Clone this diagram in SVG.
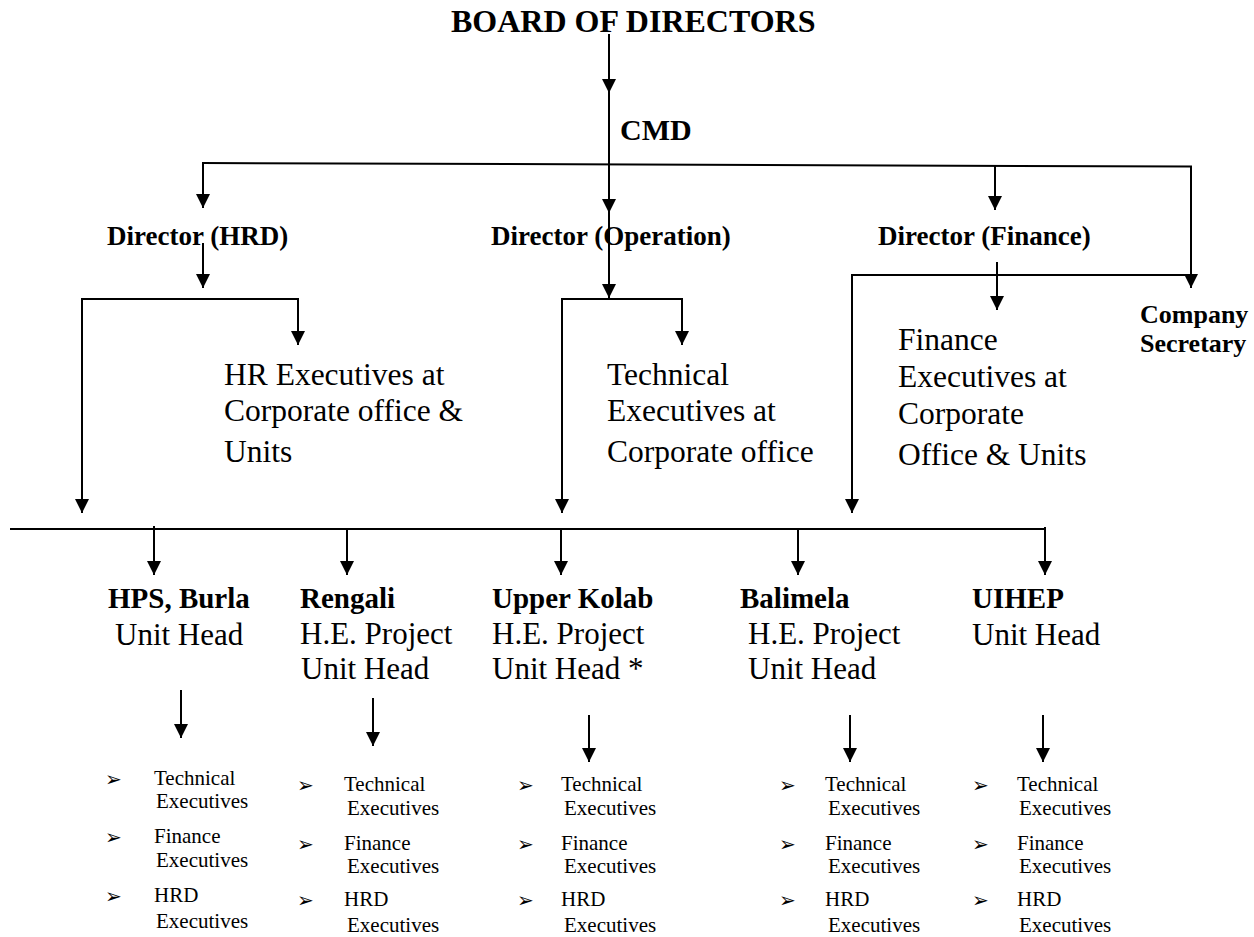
<svg xmlns="http://www.w3.org/2000/svg" width="1254" height="937" viewBox="0 0 1254 937">
<style>
text{font-family:"Liberation Serif","Times New Roman",serif;fill:#000}
.b{font-weight:bold}
.t32{font-size:32px}
.t30{font-size:30px}
.t27{font-size:27px}
.t26{font-size:26px}
.t29{font-size:29px}
.r31{font-size:31px}
.r315{font-size:31.5px}
.s21{font-size:21px}
.bul{font-family:"DejaVu Sans",sans-serif;font-size:20px}
.c line{stroke:#000;stroke-width:2;fill:none}
.c line.a{marker-end:url(#ah)}
</style>
<defs>
<marker id="ah" markerUnits="userSpaceOnUse" markerWidth="15" markerHeight="15" refX="14" refY="7" orient="auto">
<path d="M0,0 L14,7 L0,14 z" fill="#000"/>
</marker>
</defs>
<rect width="1254" height="937" fill="#fff"/>
<g id="connectors" class="c">
<line class="a" x1="609" y1="34" x2="609" y2="93"/>
<line class="a" x1="609" y1="93" x2="609" y2="213"/>
<line class="a" x1="609" y1="213" x2="609" y2="298"/>
<line x1="202" y1="163" x2="1192" y2="166.5"/>
<line class="a" x1="203" y1="163" x2="203" y2="208"/>
<line class="a" x1="995" y1="165" x2="995" y2="210"/>
<line class="a" x1="1191" y1="166.5" x2="1191" y2="288"/>
<line class="a" x1="203" y1="243" x2="203" y2="288"/>
<line x1="81" y1="299" x2="299" y2="299"/>
<line class="a" x1="82" y1="299" x2="82" y2="513"/>
<line class="a" x1="298" y1="299" x2="298" y2="345"/>
<line x1="561" y1="299" x2="683" y2="299"/>
<line class="a" x1="562" y1="299" x2="562" y2="513"/>
<line class="a" x1="682" y1="299" x2="682" y2="345"/>
<line x1="851" y1="275" x2="1192" y2="275"/>
<line class="a" x1="852" y1="275" x2="852" y2="513"/>
<line class="a" x1="997" y1="262" x2="997" y2="310"/>
<line x1="10" y1="529" x2="1046" y2="529"/>
<line class="a" x1="154" y1="526" x2="154" y2="575"/>
<line class="a" x1="347" y1="529" x2="347" y2="575"/>
<line class="a" x1="561" y1="529" x2="561" y2="575"/>
<line class="a" x1="798" y1="529" x2="798" y2="575"/>
<line class="a" x1="1045" y1="527" x2="1045" y2="575"/>
<line class="a" x1="181" y1="690" x2="181" y2="738"/>
<line class="a" x1="373" y1="698" x2="373" y2="746"/>
<line class="a" x1="589" y1="715" x2="589" y2="762"/>
<line class="a" x1="850" y1="715" x2="850" y2="762"/>
<line class="a" x1="1043" y1="715" x2="1043" y2="762"/>
</g>
<g id="board"><text class="b t32" x="451" y="32">BOARD OF DIRECTORS</text></g>
<g id="cmd"><text class="b t30" x="620" y="140">CMD</text></g>
<g id="dir-hrd"><text class="b t27" x="107" y="245">Director (HRD)</text></g>
<g id="dir-op"><text class="b t27" x="491" y="245">Director (Operation)</text></g>
<g id="dir-fin"><text class="b t27" x="878" y="245">Director (Finance)</text></g>
<g id="company-secretary"><text class="b t26" x="1140" y="323">Company</text><text class="b t26" x="1140" y="352">Secretary</text></g>
<g id="hr-exec"><text class="r315" x="224" y="385">HR Executives at</text><text class="r315" x="224" y="421">Corporate office &amp;</text><text class="r315" x="224" y="462">Units</text></g>
<g id="tech-exec"><text class="r315" x="607" y="385">Technical</text><text class="r315" x="607" y="421">Executives at</text><text class="r315" x="607" y="462">Corporate office</text></g>
<g id="fin-exec"><text class="r315" x="898" y="350">Finance</text><text class="r315" x="898" y="387">Executives at</text><text class="r315" x="898" y="424">Corporate</text><text class="r315" x="898" y="465">Office &amp; Units</text></g>
<g id="unit-hps"><text class="b t29" x="108" y="608">HPS, Burla</text><text class="r31" x="115" y="645">Unit Head</text></g>
<g id="unit-rengali"><text class="b t29" x="300" y="608">Rengali</text><text class="r31" x="300" y="644">H.E. Project</text><text class="r31" x="301" y="679">Unit Head</text></g>
<g id="unit-upper-kolab"><text class="b t29" x="492" y="608">Upper Kolab</text><text class="r31" x="492" y="644">H.E. Project</text><text class="r31" x="492" y="679">Unit Head *</text></g>
<g id="unit-balimela"><text class="b t29" x="740" y="608">Balimela</text><text class="r31" x="748" y="644">H.E. Project</text><text class="r31" x="748" y="679">Unit Head</text></g>
<g id="unit-uihep"><text class="b t29" x="972" y="608">UIHEP</text><text class="r31" x="972" y="645">Unit Head</text></g>
<g id="list-hps">
<text class="bul" x="105" y="786">➢</text><text class="s21" x="154" y="785">Technical</text><text class="s21" x="156" y="808">Executives</text>
<text class="bul" x="105" y="844">➢</text><text class="s21" x="154" y="843">Finance</text><text class="s21" x="156" y="867">Executives</text>
<text class="bul" x="105" y="903">➢</text><text class="s21" x="154" y="902">HRD</text><text class="s21" x="156" y="928">Executives</text>
</g>
<g id="list-rengali">
<text class="bul" x="297" y="792">➢</text><text class="s21" x="344" y="791">Technical</text><text class="s21" x="347" y="815">Executives</text>
<text class="bul" x="297" y="851">➢</text><text class="s21" x="344" y="850">Finance</text><text class="s21" x="347" y="873">Executives</text>
<text class="bul" x="297" y="907">➢</text><text class="s21" x="344" y="906">HRD</text><text class="s21" x="347" y="932">Executives</text>
</g>
<g id="list-upper-kolab">
<text class="bul" x="517" y="792">➢</text><text class="s21" x="561" y="791">Technical</text><text class="s21" x="564" y="815">Executives</text>
<text class="bul" x="517" y="851">➢</text><text class="s21" x="561" y="850">Finance</text><text class="s21" x="564" y="873">Executives</text>
<text class="bul" x="517" y="907">➢</text><text class="s21" x="561" y="906">HRD</text><text class="s21" x="564" y="932">Executives</text>
</g>
<g id="list-balimela">
<text class="bul" x="779" y="792">➢</text><text class="s21" x="825" y="791">Technical</text><text class="s21" x="828" y="815">Executives</text>
<text class="bul" x="779" y="851">➢</text><text class="s21" x="825" y="850">Finance</text><text class="s21" x="828" y="873">Executives</text>
<text class="bul" x="779" y="907">➢</text><text class="s21" x="825" y="906">HRD</text><text class="s21" x="828" y="932">Executives</text>
</g>
<g id="list-uihep">
<text class="bul" x="972" y="792">➢</text><text class="s21" x="1017" y="791">Technical</text><text class="s21" x="1019" y="815">Executives</text>
<text class="bul" x="972" y="851">➢</text><text class="s21" x="1017" y="850">Finance</text><text class="s21" x="1019" y="873">Executives</text>
<text class="bul" x="972" y="907">➢</text><text class="s21" x="1017" y="906">HRD</text><text class="s21" x="1019" y="932">Executives</text>
</g>
</svg>
